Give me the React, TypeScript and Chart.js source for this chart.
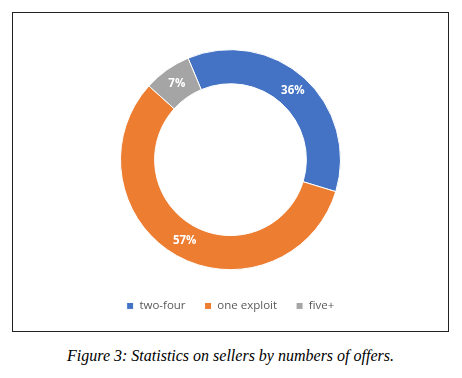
import React, { useEffect, useRef } from "react";
import { Chart, registerables } from "chart.js";

Chart.register(...registerables);

const categories = ["two-four", "one exploit", "five+"];
const shares = [36, 57, 7];
const sliceColors = ["#4472C4", "#ED7D31", "#A5A5A5"];
const caption = "Figure 3: Statistics on sellers by numbers of offers.";

const labelPlugin = {
  id: "sliceLabels",
  afterDatasetsDraw(chart: any) {
    const ctx = chart.ctx;
    const meta = chart.getDatasetMeta(0);
    const data = chart.data.datasets[0].data as number[];
    const total = data.reduce((a, b) => a + b, 0);
    ctx.save();
    ctx.fillStyle = "#ffffff";
    ctx.font = "bold 11.5px 'Open Sans', sans-serif";
    ctx.textAlign = "center";
    ctx.textBaseline = "middle";
    meta.data.forEach((arc: any, i: number) => {
      const p = arc.tooltipPosition();
      const pct = Math.round((data[i] / total) * 100);
      ctx.fillText(pct + "%", p.x, p.y);
    });
    ctx.restore();
  },
};

export default function App() {
  const ref = useRef<HTMLCanvasElement | null>(null);
  useEffect(() => {
    if (!ref.current) return;
    const chart = new Chart(ref.current, {
      type: "doughnut",
      data: {
        labels: categories,
        datasets: [
          {
            data: shares,
            backgroundColor: sliceColors,
            borderColor: "#ffffff",
            borderWidth: 1,
            radius: 110,
            cutout: "69%",
          } as any,
        ],
      },
      options: {
        animation: false,
        responsive: false,
        rotation: -22.7,
        layout: { padding: { top: 25.1, bottom: 9.3, left: 0, right: 0 } },
        plugins: {
          tooltip: { enabled: false },
          legend: {
            position: "bottom",
            labels: {
              boxWidth: 7,
              boxHeight: 7,
              padding: 19,
              color: "#595959",
              font: { family: "'Open Sans', sans-serif", size: 11.5 },
            },
          },
        },
      } as any,
      plugins: [labelPlugin],
    });
    return () => chart.destroy();
  }, []);
  return (
    <div>
      <div
        style={{
          marginLeft: 4,
          marginTop: 4,
          width: 435,
          height: 318,
          border: "1px solid #222",
        }}
      >
        <canvas ref={ref} width={435} height={318} style={{ display: "block" }} />
      </div>
      <div
        style={{
          width: 437,
          marginLeft: 4,
          marginTop: 15,
          textAlign: "center",
          fontFamily: "'Liberation Serif', 'Times New Roman', serif",
          fontStyle: "italic",
          fontSize: 16,
          lineHeight: "18px",
          color: "#000",
        }}
      >
        {caption}
      </div>
    </div>
  );
}
